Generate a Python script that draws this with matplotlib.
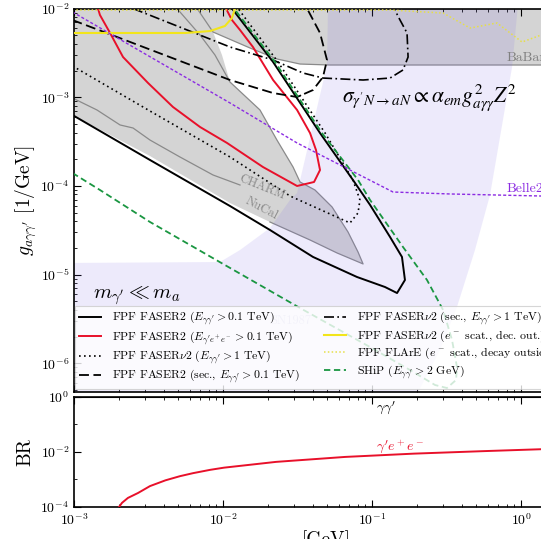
import numpy as np
import matplotlib
matplotlib.use("Agg")
import matplotlib.pyplot as plt
from matplotlib.ticker import LogLocator, NullFormatter, FixedLocator

plt.rcParams['font.family'] = 'serif'
plt.rcParams['font.serif'] = ['cmr10', 'DejaVu Serif']
plt.rcParams['mathtext.fontset'] = 'cm'
plt.rcParams['axes.formatter.use_mathtext'] = True

# ---------------------------------------------------------------------------
# Curves, stored as log10(m_a / GeV), log10(g / GeV^-1)
# ---------------------------------------------------------------------------
faser2_lm = [-3.01, -2.490, -1.953, -1.685, -1.396, -1.101, -0.913, -0.832, -0.779,
             -0.799, -0.879, -1.013, -1.128, -1.349, -1.664, -1.940]
faser2_lg = [-3.201, -3.708, -4.227, -4.497, -4.801, -5.027, -5.140, -5.208, -5.061,
             -4.801, -4.576, -4.215, -3.933, -3.404, -2.603, -2.0]

ee_lm = [-2.839, -2.826, -2.758, -2.671, -2.503, -2.336, -2.154, -1.973, -1.732, -1.503,
         -1.389, -1.349, -1.376, -1.416, -1.503, -1.664, -1.799, -1.886, -1.940, -1.980]
ee_lg = [-2.0, -2.073, -2.276, -2.547, -2.840, -3.110, -3.336, -3.516, -3.787, -4.001,
         -3.956, -3.821, -3.595, -3.404, -3.144, -2.806, -2.434, -2.242, -2.130, -2.0]

nu2_lm = [-3.01, -2.490, -1.953, -1.550, -1.148, -1.094, -1.081, -1.128, -1.315, -1.631, -1.899]
nu2_lg = [-2.648, -3.156, -3.674, -4.114, -4.418, -4.305, -4.159, -3.933, -3.404, -2.603, -2.0]

sec2_lm = [-3.01, -1.953, -1.664, -1.503, -1.396, -1.329, -1.302, -1.349, -1.436]
sec2_lg = [-2.130, -2.806, -2.953, -2.998, -2.919, -2.772, -2.581, -2.276, -2.0]

secnu_lm = [-2.604, -1.953, -1.664, -1.463, -1.329, -1.060, -0.879, -0.792, -0.758,
            -0.765, -0.812, -0.852]
secnu_lg = [-2.0, -2.434, -2.581, -2.727, -2.784, -2.806, -2.784, -2.693, -2.547,
            -2.276, -2.130, -2.0]

ship_lm = [-3.01, -2.826, -2.490, -1.953, -1.483, -1.013, -0.745, -0.577, -0.497, -0.436,
           -0.430, -0.463, -0.523, -0.631, -0.792, -1.013, -1.094, -1.336, -1.651, -1.926]
ship_lg = [-3.855, -4.046, -4.407, -4.925, -5.377, -5.817, -6.076, -6.245, -6.279, -6.188,
           -6.042, -5.737, -5.399, -5.061, -4.689, -4.159, -3.933, -3.404, -2.603, -2.0]

belle2_lm = [-3.01, -1.953, -1.503, -1.148, -0.859, -0.477, 0.134, 0.53]
belle2_lg = [-2.039, -3.065, -3.516, -3.821, -4.069, -4.091, -4.114, -4.125]

escat_lm = [-3.01, -2.255, -2.087, -1.987, -1.940, -1.919]
escat_lg = [-2.276, -2.276, -2.254, -2.197, -2.107, -2.0]

flare_lm = [-3.01, -0.879, -0.523, -0.342, -0.161, 0.007, 0.134, 0.53]
flare_lg = [-2.017, -2.017, -2.051, -2.220, -2.163, -2.378, -2.299, -2.242]

# existing bounds (beam dumps + BaBar), shaded gray
excl_lm = [-3.05, 0.7, 0.7, -1.282, -1.483, -1.638, -1.819, -2.067, -2.007, -1.953, -1.752,
           -1.638, -1.530, -1.483, -1.383, -1.268, -1.161, -1.094, -1.060, -1.235, -1.416,
           -1.685, -1.953, -2.490, -3.05]
excl_lg = [-1.95, -1.95, -2.637, -2.637, -2.626, -2.569, -2.445, -2.265, -2.524, -2.829, -3.144,
           -3.483, -3.787, -3.956, -4.046, -4.238, -4.520, -4.745, -4.880, -4.756, -4.610,
           -4.407, -4.193, -3.663, -3.167]

# SN1987 region, lavender
sn_lm = [-3.05, -3.05, -2.020, -1.886, -1.685, -1.550, -1.503, -1.302, -1.295, -0.020,
         -0.060, -0.208, -0.309, -0.430, -0.544, -0.745]
sn_lg = [-6.5, -4.869, -4.858, -4.723, -4.475, -4.159, -4.080, -2.637, -1.95, -1.95,
         -2.660, -4.103, -4.723, -5.366, -5.850, -6.5]

# gray outlines of the old bounds
charm_lm = [-3.01, -2.846, -2.691, -2.604, -2.490, -2.289, -2.067, -1.886]
charm_lg = [-3.009, -3.144, -3.313, -3.347, -3.483, -3.674, -3.877, -3.990]
nucal_lm = [-2.309, -2.154, -2.054, -1.953, -1.752, -1.638, -1.530, -1.483, -1.383, -1.268,
            -1.161, -1.094, -1.060, -1.235, -1.416, -1.685]
nucal_lg = [-2.0, -2.299, -2.524, -2.829, -3.144, -3.483, -3.787, -3.956, -4.046, -4.238,
            -4.520, -4.745, -4.880, -4.756, -4.610, -4.407]
babar_lm = [-2.174, -2.067, -1.819, -1.638, -1.483, -1.282, 0.53]
babar_lg = [-2.0, -2.265, -2.445, -2.569, -2.626, -2.637, -2.637]

# branching ratio of the gamma' e+ e- channel (the gamma gamma' one sits at 1)
br_lm = [-2.698, -2.678, -2.638, -2.570, -2.490, -2.386, -2.289, -2.201, -2.087, -1.993,
         -1.644, -1.181, -0.718, -0.255, 0.134, 0.53]
br_lg = [-4.0, -3.85, -3.67, -3.49, -3.24, -3.03, -2.88, -2.77, -2.65, -2.57,
         -2.36, -2.18, -2.06, -1.97, -1.90, -1.85]


def p(lm, lg):
    return 10 ** np.array(lm), 10 ** np.array(lg)


fig = plt.figure(figsize=(5.41, 5.39), dpi=100)
ax = fig.add_axes([0.1368, 0.2727, 1.1017, 0.7115])
axb = fig.add_axes([0.1368, 0.0594, 1.1017, 0.2041])

# shaded regions
ax.fill(*p(excl_lm, excl_lg), color='#d4d4d4', lw=0, zorder=1)
ax.plot(*p(charm_lm, charm_lg), color='#8a8a8a', lw=0.9, zorder=1.5)
ax.plot(*p(nucal_lm, nucal_lg), color='#8a8a8a', lw=0.9, zorder=1.5)
ax.plot(*p(babar_lm, babar_lg), color='#8a8a8a', lw=0.9, zorder=1.5)
ax.fill(*p(sn_lm, sn_lg), color='#7864e6', alpha=0.13, lw=0, zorder=2)

# projections
h1, = ax.plot(*p(faser2_lm, faser2_lg), color='black', lw=1.4, zorder=4)
h2, = ax.plot(*p(ee_lm, ee_lg), color='#e8102a', lw=1.4, zorder=4)
h3, = ax.plot(*p(nu2_lm, nu2_lg), color='black', lw=1.2, dashes=(1, 2), zorder=4)
h4, = ax.plot(*p(sec2_lm, sec2_lg), color='black', lw=1.3, dashes=(5.5, 2.5), zorder=4)
h5, = ax.plot(*p(secnu_lm, secnu_lg), color='black', lw=1.2, dashes=(6, 2, 1, 2), zorder=4)
h6, = ax.plot(*p(escat_lm, escat_lg), color='#f2e51b', lw=1.5, zorder=4)
h7, = ax.plot(*p(flare_lm, flare_lg), color='#e6df4a', lw=1.1, dashes=(1, 1.5), zorder=4)
h8, = ax.plot(*p(ship_lm, ship_lg), color='#1a9641', lw=1.3, dashes=(3.5, 2), zorder=4)
ax.plot(*p(belle2_lm, belle2_lg), color='#8b2be2', lw=1.0, dashes=(2.2, 1.5), zorder=4)

labels = [
    r"FPF FASER2 ($E_{\gamma\gamma'} > 0.1$ TeV)",
    r"FPF FASER2 ($E_{\gamma' e^+e^-} > 0.1$ TeV)",
    r"FPF FASER$\nu$2 ($E_{\gamma\gamma'} > 1$ TeV)",
    r"FPF FASER2 (sec., $E_{\gamma\gamma'} > 0.1$ TeV)",
    r"FPF FASER$\nu$2 (sec., $E_{\gamma\gamma'} > 1$ TeV)",
    r"FPF FASER$\nu$2 ($e^-$ scat., dec. out.)",
    r"FPF FLArE ($e^-$ scat., decay outside)",
    r"SHiP ($E_{\gamma\gamma'} > 2$ GeV)",
]
leg = ax.legend([h1, h2, h3, h4, h5, h6, h7, h8], labels, ncol=2, loc='lower left',
                bbox_to_anchor=(0.002, 0.008), borderaxespad=0, fontsize=8.5,
                frameon=True, framealpha=0.8, edgecolor='#cccccc', fancybox=False,
                handlelength=1.9, handletextpad=0.9, columnspacing=2.0,
                labelspacing=0.15, borderpad=0.3)
leg.set_zorder(10)
leg.get_frame().set_linewidth(0.8)

# annotations
ax.text(0.329, 0.185, 'SN1987', transform=ax.transAxes, color='#c2bce6', fontsize=9,
        va='center', zorder=3)
ax.text(0.450, 0.767, r"$\sigma_{\gamma' N\to aN} \propto \alpha_{em} g^2_{a\gamma\gamma} Z^2$",
        transform=ax.transAxes, fontsize=15.5, va='center', math_fontfamily='stix', zorder=5)
ax.text(0.032, 0.253, r"$m_{\gamma'} \ll m_a$", transform=ax.transAxes, fontsize=15,
        va='center', zorder=5)
ax.text(0.7265, 0.871, 'BaBar', transform=ax.transAxes, color='#808080', fontsize=10,
        va='center', zorder=5)
ax.text(0.7265, 0.529, 'Belle2', transform=ax.transAxes, color='#8b2be2', fontsize=10,
        va='center', zorder=5)
ax.text(0.315, 0.535, 'CHARM', transform=ax.transAxes, color='#8a8a8a', fontsize=9,
        rotation=-22, ha='center', va='center', zorder=5)
ax.text(0.315, 0.478, 'NuCal', transform=ax.transAxes, color='#8a8a8a', fontsize=9,
        rotation=-28, ha='center', va='center', zorder=5)

ax.set_xscale('log')
ax.set_yscale('log')
ax.set_xlim(1e-3, 1e1)
ax.set_ylim(10 ** -6.324, 1e-2)
ax.set_ylabel(r"$g_{a\gamma\gamma'}$ [1/GeV]", fontsize=14)
ax.yaxis.set_label_coords(-0.058, 0.5)

# branching ratios
axb.axhline(1.0, color='black', lw=1.5, zorder=3)
axb.plot(*p(br_lm, br_lg), color='#e8102a', lw=1.4, zorder=3)
axb.text(0.507, 0.90, r"$\gamma\gamma'$", transform=axb.transAxes, fontsize=10, va='center')
axb.text(0.507, 0.545, r"$\gamma' e^+e^-$", transform=axb.transAxes, fontsize=10,
         va='center', color='#e8102a')
axb.set_xscale('log')
axb.set_yscale('log')
axb.set_xlim(1e-3, 1e1)
axb.set_ylim(1e-4, 1.0)
axb.yaxis.set_major_locator(FixedLocator([1e-4, 1e-2, 1.0]))
axb.yaxis.set_minor_locator(FixedLocator([1e-3, 1e-1]))
axb.yaxis.set_minor_formatter(NullFormatter())
axb.set_ylabel('BR', fontsize=14)
axb.yaxis.set_label_coords(-0.067, 0.5)
axb.set_xlabel('[GeV]', fontsize=14)
axb.xaxis.set_label_coords(0.423, -0.21)

for a in (ax, axb):
    a.xaxis.set_minor_locator(LogLocator(base=10, subs=np.arange(2, 10), numticks=50))
    a.xaxis.set_minor_formatter(NullFormatter())
    a.tick_params(which='both', direction='in', top=True, bottom=True, left=True, right=True,
                  labelsize=10)
    a.tick_params(which='major', length=5, width=0.8)
    a.tick_params(which='minor', length=2.5, width=0.6)
    for s in a.spines.values():
        s.set_linewidth(1.2)
ax.yaxis.set_minor_locator(LogLocator(base=10, subs=np.arange(2, 10), numticks=50))
ax.yaxis.set_minor_formatter(NullFormatter())
ax.tick_params(labelbottom=False)

fig.savefig('out.png', dpi=100)
